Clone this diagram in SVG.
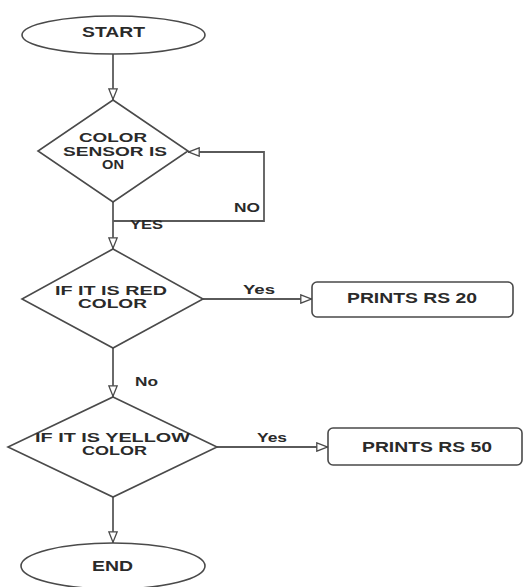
<svg xmlns="http://www.w3.org/2000/svg" width="524" height="587" viewBox="0 0 524 587">
<defs>
<style>
.shape{fill:#fff;stroke:#4a4a4a;stroke-width:1.6}
.conn{fill:none;stroke:#5a5a5a;stroke-width:1.8}
.t{font-family:"Liberation Sans",Arial,sans-serif;font-weight:bold;font-size:14px;fill:#2a2a2a;text-anchor:middle}
.m{font-family:"Liberation Sans",Arial,sans-serif;font-weight:bold;font-size:12.5px;fill:#2a2a2a;text-anchor:middle}
.l{font-family:"Liberation Sans",Arial,sans-serif;font-weight:bold;font-size:13px;fill:#2a2a2a;text-anchor:middle}
</style>
<marker id="arr" viewBox="0 0 12 10" refX="12" refY="5" markerWidth="12" markerHeight="10" markerUnits="userSpaceOnUse" orient="auto">
<path d="M0.8,0.8 L11.2,5 L0.8,9.2 Z" fill="#fff" stroke="#4a4a4a" stroke-width="1.3"/>
</marker>
</defs>
<rect width="524" height="587" fill="#fff"/>
<g id="connectors">
<line class="conn" x1="113" y1="54" x2="113" y2="100" marker-end="url(#arr)"/>
<line class="conn" x1="113" y1="202" x2="113" y2="249" marker-end="url(#arr)"/>
<path class="conn" d="M113,221 H264 V152 H188" marker-end="url(#arr)"/>
<line class="conn" x1="203" y1="299" x2="312" y2="299" marker-end="url(#arr)"/>
<line class="conn" x1="113" y1="348" x2="113" y2="397" marker-end="url(#arr)"/>
<line class="conn" x1="217" y1="447" x2="328" y2="447" marker-end="url(#arr)"/>
<line class="conn" x1="113" y1="497" x2="113" y2="543" marker-end="url(#arr)"/>
<text class="l" x="247" y="212" textLength="26" lengthAdjust="spacingAndGlyphs">NO</text>
<text class="l" x="146.5" y="229" textLength="33" lengthAdjust="spacingAndGlyphs">YES</text>
<text class="l" x="259" y="294" textLength="32" lengthAdjust="spacingAndGlyphs">Yes</text>
<text class="l" x="146.5" y="386" textLength="23" lengthAdjust="spacingAndGlyphs">No</text>
<text class="l" x="272" y="442" textLength="30" lengthAdjust="spacingAndGlyphs">Yes</text>
</g>
<g id="start">
<ellipse class="shape" cx="113.5" cy="35" rx="91.5" ry="19"/>
<text class="t" x="113.5" y="37" textLength="63" lengthAdjust="spacingAndGlyphs">START</text>
</g>
<g id="sensor">
<polygon class="shape" points="113,100 188,151 113,202 38,151"/>
<text class="m" x="113" y="141.5" textLength="68" lengthAdjust="spacingAndGlyphs">COLOR</text>
<text class="m" x="115" y="155.5" textLength="104" lengthAdjust="spacingAndGlyphs">SENSOR IS</text>
<text class="m" x="113" y="169" textLength="22" lengthAdjust="spacingAndGlyphs">ON</text>
</g>
<g id="red">
<polygon class="shape" points="113,249 203,299 113,348 22,299"/>
<text class="m" x="111" y="294.5" textLength="112" lengthAdjust="spacingAndGlyphs">IF IT IS RED</text>
<text class="m" x="112.5" y="308" textLength="69" lengthAdjust="spacingAndGlyphs">COLOR</text>
</g>
<g id="rs20">
<rect class="shape" x="312" y="282" width="201" height="35" rx="5"/>
<text class="t" x="412" y="303" textLength="130" lengthAdjust="spacingAndGlyphs">PRINTS RS 20</text>
</g>
<g id="yellow">
<polygon class="shape" points="113,397 217,447 113,497 8,447"/>
<text class="m" x="112.5" y="441.5" textLength="155" lengthAdjust="spacingAndGlyphs">IF IT IS YELLOW</text>
<text class="m" x="114.5" y="455" textLength="65" lengthAdjust="spacingAndGlyphs">COLOR</text>
</g>
<g id="rs50">
<rect class="shape" x="328" y="428" width="194" height="37" rx="5"/>
<text class="t" x="427" y="452" textLength="130" lengthAdjust="spacingAndGlyphs">PRINTS RS 50</text>
</g>
<g id="end">
<ellipse class="shape" cx="113" cy="566" rx="92" ry="23"/>
<text class="t" x="112.5" y="571" textLength="41" lengthAdjust="spacingAndGlyphs">END</text>
</g>
</svg>
